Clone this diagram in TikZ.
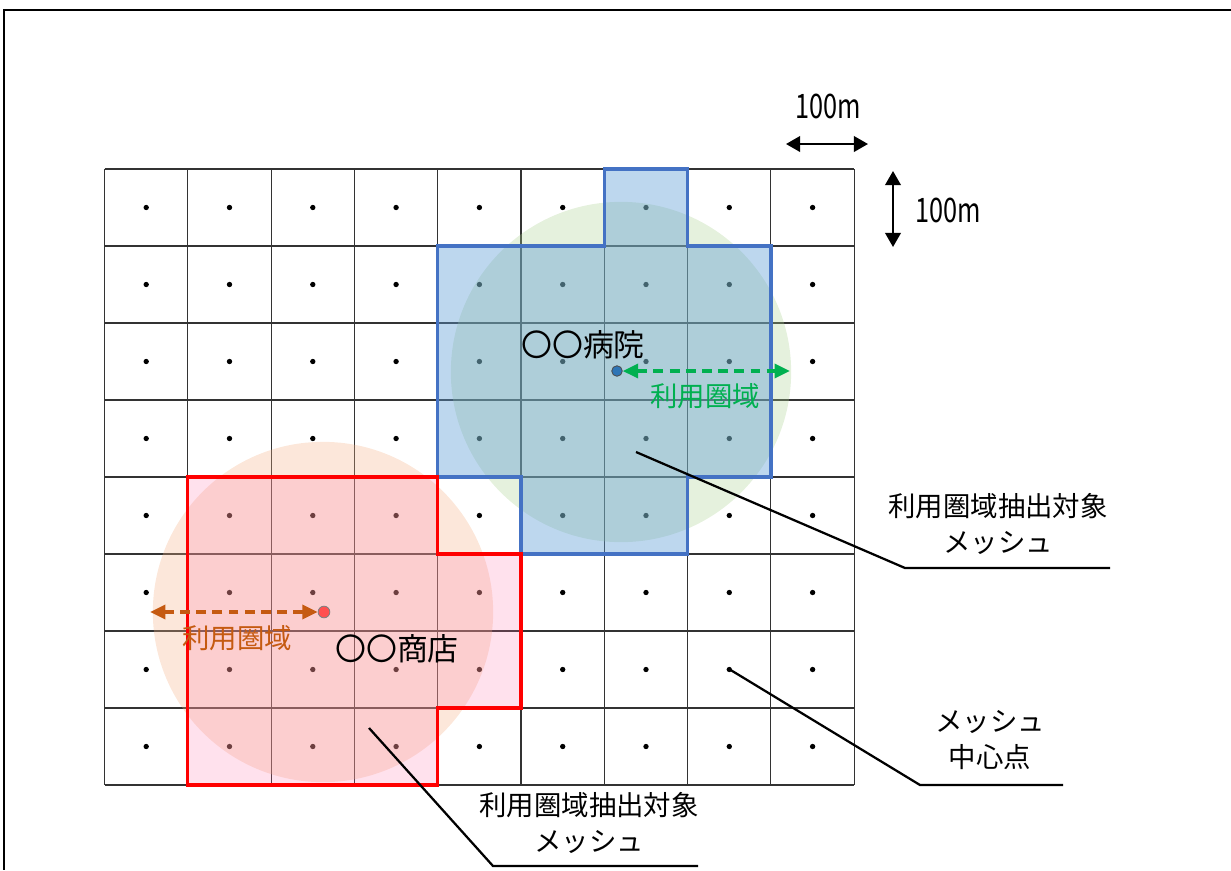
\documentclass[tikz,border=0pt]{standalone}
\usepackage{fontspec}
\setmainfont{Noto Sans CJK JP}
\newfontfamily\narrowfont[FakeStretch=0.75]{Noto Sans CJK JP}
\usetikzlibrary{arrows.meta}
\definecolor{hblue}{RGB}{68,114,196}
\definecolor{hfill}{RGB}{91,155,213}
\definecolor{hgreen}{RGB}{169,209,142}
\definecolor{agreen}{RGB}{0,176,80}
\definecolor{sfill}{RGB}{255,105,165}
\definecolor{sorange}{RGB}{244,177,131}
\definecolor{abrown}{RGB}{197,90,17}
\definecolor{hdotblue}{RGB}{46,117,182}
\definecolor{sdotred}{RGB}{255,80,80}

\begin{document}
\begin{tikzpicture}[x=0.025cm, y=-0.025cm,
  gridline/.style={draw=black!80, line width=0.8pt},
  reach/.style={fill opacity=0.3},
  area/.style={line width=2.3pt, line join=miter},
  hspot/.style={circle, draw=black!70, fill=hdotblue, line width=0.6pt, inner sep=0pt, minimum size=7.5pt},
  sspot/.style={circle, draw=black!50, fill=sdotred, line width=0.6pt, inner sep=0pt, minimum size=8.3pt},
  reacharrow/.style={dash pattern=on 7pt off 4.5pt, line width=2.4pt,
                     {Triangle[length=11pt,width=10pt]}-{Triangle[length=11pt,width=10pt]}},
  dimarrow/.style={line width=1.6pt, {Triangle[length=10pt,width=11pt]}-{Triangle[length=10pt,width=11pt]}},
  callout/.style={line width=1.6pt},
  lbl/.style={align=center, font=\fontsize{19.5}{26}\selectfont},
  placename/.style={font=\fontsize{22}{26}\selectfont},
  dimlbl/.style={font=\narrowfont\fontsize{24}{28}\selectfont},
]
\useasboundingbox (0,0) rectangle (1231,870);
\draw[line width=1.6pt] (1231,10) -- (4,10) -- (4,870);

\foreach \i in {0,...,9}
  \draw[gridline] ({104.5+83.3*\i},169) -- ({104.5+83.3*\i},785);
\foreach \j in {0,...,8}
  \draw[gridline] (104.5,{169+77*\j}) -- (854.2,{169+77*\j});
\foreach \i in {0,...,8}
  \foreach \j in {0,...,7}
    \fill ({146.2+83.3*\i},{207.5+77*\j}) circle (1.9pt);

\fill[reach, hgreen] (621,372) circle (121pt);
\fill[reach, sorange] (323,612) circle (121pt);

\path[area, draw=hblue, fill=hfill, fill opacity=0.4]
  (604.3,169) -- (687.6,169) -- (687.6,246) -- (770.9,246) -- (770.9,477)
  -- (687.6,477) -- (687.6,554) -- (521,554) -- (521,477) -- (437.7,477)
  -- (437.7,246) -- (604.3,246) -- cycle;
\path[area, draw=red, fill=sfill, fill opacity=0.2]
  (187.8,477) -- (437.7,477) -- (437.7,554) -- (521,554) -- (521,708)
  -- (437.7,708) -- (437.7,785) -- (187.8,785) -- cycle;

\node[hspot] (hosp) at (617,371) {};
\node[sspot] (shop) at (324,612) {};
\coordinate (hreach) at (790,371);
\coordinate (sreach) at (150,612);
\draw[reacharrow, agreen] (hosp) -- (hreach);
\draw[reacharrow, abrown] (shop) -- (sreach);

\node[placename] (hospname) at (583,345) {〇〇病院};
\node[placename] (shopname) at (397,649) {〇〇商店};
\node[lbl, text=agreen] (hlabel) at (705,396) {利用圏域};
\node[lbl, text=abrown] (slabel) at (237,638) {利用圏域};

\coordinate (dl) at (786,144);
\coordinate (dr) at (868,144);
\draw[dimarrow] (dl) -- (dr);
\node[dimlbl] (dimx) at (828,106) {100m};
\coordinate (dt) at (893,171);
\coordinate (db) at (893,247);
\draw[dimarrow] (dt) -- (db);
\node[dimlbl] (dimy) at (948,210) {100m};

\node[lbl] (hmesh) at (998,524) {利用圏域抽出対象\\メッシュ};
\coordinate (hm0) at (636,452);
\coordinate (hm1) at (905,568);
\coordinate (hm2) at (1110,568);
\draw[callout] (hm0) -- (hm1) -- (hm2);

\node[lbl] (smesh) at (589,823) {利用圏域抽出対象\\メッシュ};
\coordinate (sm0) at (369,728);
\coordinate (sm1) at (493,866);
\coordinate (sm2) at (698,866);
\draw[callout] (sm0) -- (sm1) -- (sm2);

\node[lbl] (centre) at (990,740) {メッシュ\\中心点};
\coordinate (cp0) at (729,669);
\coordinate (cp1) at (920,785);
\coordinate (cp2) at (1063,785);
\draw[callout] (cp0) -- (cp1) -- (cp2);
\end{tikzpicture}
\end{document}
